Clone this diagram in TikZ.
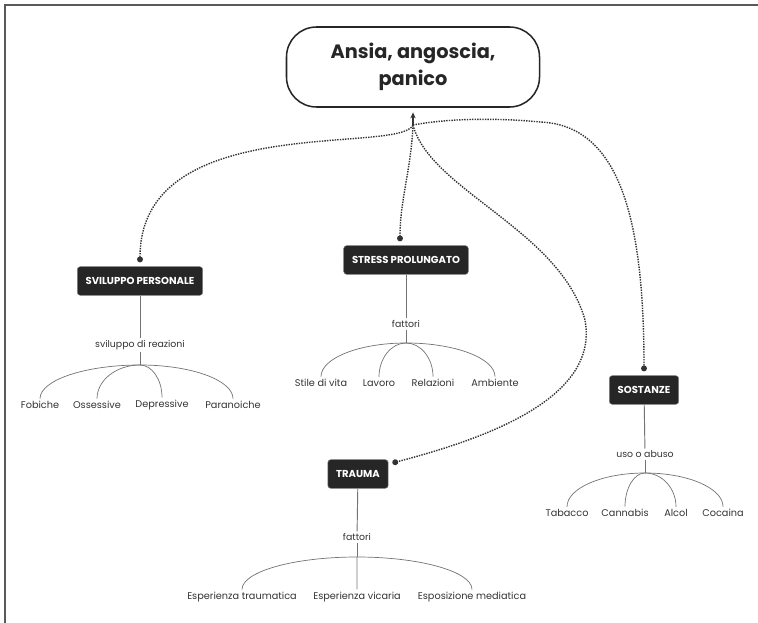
\documentclass[tikz,border=0pt]{standalone}
\usepackage{fontspec}
\setmainfont{Poppins}
\usetikzlibrary{arrows.meta,calc,positioning}

\tikzset{
  root/.style={draw=black!85, line width=1.3pt, rounded corners=0.9cm,
    minimum width=7.59cm, minimum height=2.4cm, align=center,
    font=\bfseries\fontsize{16.5}{23.5}\selectfont, text=black!85},
  topic/.style={draw=black!50, fill=black!85, text=white, rounded corners=2.5pt,
    minimum height=0.86cm, inner xsep=0.25cm,
    font=\bfseries\fontsize{8.6}{9}\selectfont},
  verb/.style={font=\fontsize{8}{9}\selectfont, text=black!80, inner sep=1.5pt},
  leaf/.style={font=\fontsize{8.3}{9}\selectfont, text=black!80, inner sep=2pt},
  stem/.style={draw=black!55, line width=0.8pt},
  branch/.style={draw=black!55, line width=0.6pt},
  link/.style={draw=black!80, line width=1.2pt, densely dotted,
    -{Circle[length=5pt]}, shorten >=3.5pt},
}

% quarter-ellipse branch from a hub down to a leaf
\newcommand{\branch}[2]{%
  \draw[branch] (#1) .. controls ($(#1)!0.55!(#1 -| #2.north)$)
    and ($(#2.north)!0.55!(#1 -| #2.north)$) .. (#2.north);}

\begin{document}
\begin{tikzpicture}[x=0.03cm, y=-0.03cm]
  \useasboundingbox (0,0) rectangle (758,623);

  % ====== FRAME ======
  \draw[black!65, line width=1.2pt] (5,623) -- (5,5) -- (758,5);

  % ====== ROOT ======
  \node[root] (ansia) at (413,67) {Ansia, angoscia,\\panico};
  \coordinate (hub) at (413,125);
  \draw[line width=1pt, black!80, -{Stealth[length=5pt,width=4.5pt]}, shorten >=4pt]
    (hub) -- (ansia.south);

  % ====== SVILUPPO PERSONALE ======
  \node[topic] (svil) at (140,281) {SVILUPPO PERSONALE};
  \node[verb] (svilrel) at (140,345) {sviluppo di reazioni};
  \coordinate (svilhub) at (140,365);
  \draw[stem] (svil) -- (svilrel);
  \draw[stem] (svilrel) -- (svilhub);
  \foreach \name/\x/\txt in {fob/40/Fobiche, oss/97/Ossessive,
                             dep/162/Depressive, par/233/Paranoiche} {
    \node[leaf] (\name) at (\x,405) {\txt};
    \branch{svilhub}{\name}
  }

  % ====== STRESS PROLUNGATO ======
  \node[topic] (stress) at (406,260) {STRESS PROLUNGATO};
  \node[verb] (stressrel) at (406,324) {fattori};
  \coordinate (stresshub) at (406,343);
  \draw[stem] (stress) -- (stressrel);
  \draw[stem] (stressrel) -- (stresshub);
  \foreach \name/\x/\txt in {vita/321/Stile di vita, lav/379/Lavoro,
                             rel/433/Relazioni, amb/495/Ambiente} {
    \node[leaf] (\name) at (\x,383) {\txt};
    \branch{stresshub}{\name}
  }

  % ====== SOSTANZE ======
  \node[topic] (sost) at (644,390) {SOSTANZE};
  \node[verb] (sostrel) at (645,454) {uso o abuso};
  \coordinate (sosthub) at (645,473);
  \draw[stem] (sost) -- (sostrel);
  \draw[stem] (sostrel) -- (sosthub);
  \foreach \name/\x/\txt in {tab/567/Tabacco, can/625/Cannabis,
                             alc/676/Alcol, coc/723/Cocaina} {
    \node[leaf] (\name) at (\x,513) {\txt};
    \branch{sosthub}{\name}
  }

  % ====== TRAUMA ======
  \node[topic] (trauma) at (358,474) {TRAUMA};
  \node[verb] (traumarel) at (357,537) {fattori};
  \coordinate (traumahub) at (357,557);
  \draw[stem] (trauma) -- (traumarel);
  \draw[stem] (traumarel) -- (traumahub);
  \foreach \name/\x/\txt in {trm/242/Esperienza traumatica, vic/357/Esperienza vicaria,
                             med/472/Esposizione mediatica} {
    \node[leaf] (\name) at (\x,597) {\txt};
    \branch{traumahub}{\name}
  }

  % ====== DOTTED LINKS TO ROOT ======
  \draw[link] (hub) .. controls (400,155) and (140,110) .. (svil.north);
  \draw[link] (hub) .. controls (411,170) and (400,200) .. ([xshift=-0.18cm]stress.north);
  \draw[link] (hub) .. controls (450,118) and (500,118) .. (540,122)
    .. controls (620,125) and (644,220) .. (sost.north);
  \draw[link] (hub) .. controls (430,190) and (560,230) .. (585,320)
    .. controls (600,400) and (480,440) .. ([yshift=0.3cm]trauma.east);

\end{tikzpicture}
\end{document}
